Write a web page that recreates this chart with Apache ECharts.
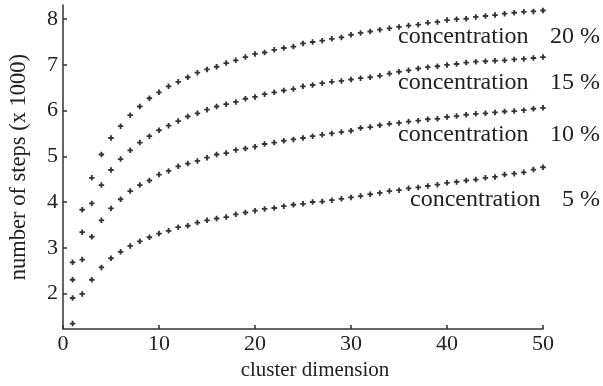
<!DOCTYPE html>
<html>
<head>
<meta charset="utf-8">
<script src="https://cdn.jsdelivr.net/npm/echarts@6/dist/echarts.min.js"></script>
<style>
  html, body { margin: 0; padding: 0; background: #fff; }
  #chart { width: 603px; height: 386px; }
</style>
</head>
<body>
<div id="chart"></div>
<script>
// cluster dimension 1..50
const clusterDims = Array.from({ length: 50 }, (_, i) => i + 1);

// number of steps (x 1000) for each concentration
const steps20 = [2.68, 3.83, 4.53, 5.04, 5.40, 5.66, 5.90, 6.09, 6.27, 6.40,
  6.53, 6.63, 6.73, 6.83, 6.90, 6.96, 7.04, 7.10, 7.17, 7.24,
  7.27, 7.33, 7.37, 7.40, 7.47, 7.50, 7.53, 7.57, 7.60, 7.66,
  7.70, 7.73, 7.77, 7.80, 7.83, 7.86, 7.88, 7.92, 7.94, 7.98,
  8.00, 8.01, 8.05, 8.07, 8.09, 8.12, 8.14, 8.16, 8.17, 8.19];
const steps15 = [2.30, 3.34, 3.97, 4.37, 4.70, 4.94, 5.13, 5.30, 5.44, 5.57,
  5.67, 5.77, 5.87, 5.94, 6.02, 6.09, 6.14, 6.19, 6.26, 6.30,
  6.36, 6.40, 6.44, 6.47, 6.53, 6.56, 6.60, 6.63, 6.65, 6.68,
  6.71, 6.73, 6.76, 6.81, 6.85, 6.88, 6.92, 6.95, 6.97, 7.00,
  7.02, 7.05, 7.07, 7.08, 7.09, 7.10, 7.12, 7.13, 7.15, 7.17];
const steps10 = [1.90, 2.74, 3.24, 3.60, 3.86, 4.06, 4.24, 4.37, 4.47, 4.60,
  4.68, 4.78, 4.84, 4.90, 4.97, 5.04, 5.07, 5.14, 5.17, 5.21,
  5.27, 5.30, 5.34, 5.37, 5.40, 5.44, 5.47, 5.50, 5.53, 5.56,
  5.62, 5.64, 5.68, 5.71, 5.73, 5.76, 5.78, 5.81, 5.82, 5.86,
  5.88, 5.91, 5.93, 5.94, 5.96, 5.98, 5.99, 6.01, 6.04, 6.06];
const steps5 = [1.34, 1.99, 2.30, 2.57, 2.77, 2.91, 3.04, 3.14, 3.23, 3.31,
  3.37, 3.45, 3.48, 3.55, 3.60, 3.64, 3.67, 3.73, 3.77, 3.81,
  3.85, 3.87, 3.91, 3.94, 3.96, 4.00, 4.01, 4.04, 4.07, 4.10,
  4.13, 4.17, 4.20, 4.24, 4.26, 4.30, 4.32, 4.35, 4.38, 4.42,
  4.44, 4.47, 4.49, 4.53, 4.55, 4.60, 4.62, 4.65, 4.71, 4.76];

const seriesNames = ['concentration 20 %', 'concentration 15 %', 'concentration 10 %', 'concentration 5 %'];
const seriesValues = [steps20, steps15, steps10, steps5];
const captionNumbers = ['20 %', '15 %', '10 %', '5 %'];

const xTicks = [0, 10, 20, 30, 40, 50];
const yTicks = [2, 3, 4, 5, 6, 7, 8];

const FONT = '"Liberation Serif", "Times New Roman", serif';
const INK = '#222';
const PLUS = 'path://M3,0H6V3H9V6H6V9H3V6H0V3H3Z';

const chart = echarts.init(document.getElementById('chart'), null, { renderer: 'canvas' });

// curve captions under the right end of each curve (y = text middle)
const captionLayout = [
  { y: 37, left: 398 },
  { y: 83, left: 398 },
  { y: 135, left: 398 },
  { y: 200, left: 410 }
];
const graphics = [];
captionLayout.forEach((r, k) => {
  graphics.push({
    type: 'text', x: r.left, y: r.y, z: 10,
    style: { text: 'concentration', font: '24px ' + FONT, fill: INK, align: 'left', verticalAlign: 'middle' }
  });
  graphics.push({
    type: 'text', x: 600, y: r.y, z: 10,
    style: { text: captionNumbers[k], font: '24px ' + FONT, fill: INK, align: 'right', verticalAlign: 'middle' }
  });
});

chart.setOption({
  animation: false,
  backgroundColor: '#fff',
  grid: { left: 51, right: 60, top: 5, bottom: 53, containLabel: false },
  xAxis: {
    type: 'value', min: 0, max: 50,
    name: 'cluster dimension', nameLocation: 'middle', nameGap: 30,
    nameTextStyle: { fontFamily: FONT, fontSize: 21, color: INK, padding: [0, 0, 0, 24] },
    axisLine: { show: true, onZero: false, lineStyle: { color: '#333', width: 1.5 } },
    axisTick: { show: true, inside: true, length: 4, customValues: xTicks, lineStyle: { color: '#333', width: 1.5 } },
    axisLabel: { customValues: xTicks, fontFamily: FONT, fontSize: 22, color: INK, margin: 4 },
    splitLine: { show: false }
  },
  yAxis: {
    type: 'value', min: 1.22, max: 8.31,
    name: 'number of steps (x 1000)', nameLocation: 'middle', nameGap: 32,
    nameTextStyle: { fontFamily: FONT, fontSize: 22.5, color: INK },
    axisLine: { show: true, onZero: false, lineStyle: { color: '#333', width: 1.5 } },
    axisTick: { show: true, inside: true, length: 4, customValues: yTicks, lineStyle: { color: '#333', width: 1.5 } },
    axisLabel: { customValues: yTicks, fontFamily: FONT, fontSize: 22, color: INK, margin: 5 },
    splitLine: { show: false }
  },
  graphic: graphics,
  series: seriesValues.map((vals, k) => ({
    name: seriesNames[k],
    type: 'scatter',
    symbol: PLUS,
    symbolSize: 5.5,
    itemStyle: { color: '#000' },
    data: clusterDims.map((d, i) => [d, vals[i]])
  }))
});
</script>
</body>
</html>
